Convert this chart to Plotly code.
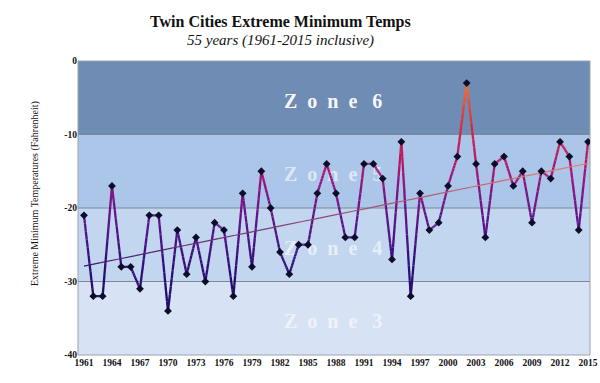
import numpy as np
import plotly.graph_objects as go

years = list(range(1961, 2016))
temps = [-21, -32, -32, -17, -28, -28, -31, -21, -21, -34,
         -23, -29, -24, -30, -22, -23, -32, -18, -28, -15,
         -20, -26, -29, -25, -25, -18, -14, -18, -24, -24,
         -14, -14, -16, -27, -11, -32, -18, -23, -22, -17,
         -13, -3, -14, -24, -14, -13, -17, -15, -22, -15,
         -16, -11, -13, -23, -11]
zone_names = ["Zone 6", "Zone 5", "Zone 4", "Zone 3"]
zone_bounds = [(0, -10), (-10, -20), (-20, -30), (-30, -40)]
zone_label_y = [-5.7, -15.7, -25.7, -35.7]
xtick_years = list(range(1961, 2016, 3))
ytick_vals = [0, -10, -20, -30, -40]
ytick_text = ["0", "-10", "-20", "-30", "-40"]

zone_colors = ["#6f8cb5", "#abc6e8", "#c3d6ef", "#d7e3f4"]
zone_text_colors = ["rgba(255,255,255,0.95)", "rgba(255,255,255,0.6)",
                    "rgba(255,255,255,0.6)", "rgba(255,255,255,0.6)"]

stops = [(-34, (25, 10, 100)), (-28, (45, 15, 120)), (-22, (90, 20, 140)),
         (-17, (140, 20, 130)), (-13, (185, 25, 100)), (-9, (215, 40, 70)),
         (-3, (240, 120, 40))]


def color_for(v):
    if v <= stops[0][0]:
        c = stops[0][1]
    elif v >= stops[-1][0]:
        c = stops[-1][1]
    else:
        for (a, ca), (b, cb) in zip(stops[:-1], stops[1:]):
            if a <= v <= b:
                t = (v - a) / (b - a)
                c = tuple(ca[i] + t * (cb[i] - ca[i]) for i in range(3))
                break
    return "rgb(%d,%d,%d)" % tuple(int(round(x)) for x in c)


def spaced(name):
    word, num = name.split(" ")
    return "\u2002".join(list(word)) + "\u2002 " + num


fig = go.Figure()

# zone labels (drawn first so lines are above)
fig.add_trace(go.Scatter(
    x=[1987.7] * 4, y=zone_label_y, mode="text", text=[spaced(n) for n in zone_names],
    textfont=dict(family="Liberation Serif", size=20, color=zone_text_colors, weight="bold"),
    hoverinfo="skip", showlegend=False))

# gradient data line: split segments into pieces, bin by colour
nsub = 10
nbins = 40
vmin, vmax = -34, -3
bins = {}
for i in range(len(years) - 1):
    x0, x1 = years[i], years[i + 1]
    y0, y1 = temps[i], temps[i + 1]
    for k in range(nsub):
        t0, t1 = k / nsub, (k + 1) / nsub
        xa, xb = x0 + (x1 - x0) * t0, x0 + (x1 - x0) * t1
        ya, yb = y0 + (y1 - y0) * t0, y0 + (y1 - y0) * t1
        vm = (ya + yb) / 2
        b = int(round((vm - vmin) / (vmax - vmin) * nbins))
        b = max(0, min(nbins, b))
        bins.setdefault(b, ([], []))
        bins[b][0].extend([xa, xb, None])
        bins[b][1].extend([ya, yb, None])
for b, (xs, ys) in sorted(bins.items()):
    v = vmin + (vmax - vmin) * b / nbins
    fig.add_trace(go.Scatter(x=xs, y=ys, mode="lines",
                             line=dict(color=color_for(v), width=2.3),
                             hoverinfo="skip", showlegend=False))

# trend line (least squares), gradient from left to right
slope, intercept = np.polyfit(years, temps, 1)
nt = 30
tx = np.linspace(years[0], years[-1], nt + 1)
c0, c1 = (60, 25, 115), (235, 130, 110)
for k in range(nt):
    t = (k + 0.5) / nt
    col = "rgb(%d,%d,%d)" % tuple(int(c0[i] + t * (c1[i] - c0[i])) for i in range(3))
    fig.add_trace(go.Scatter(x=[tx[k], tx[k + 1]],
                             y=[slope * tx[k] + intercept, slope * tx[k + 1] + intercept],
                             mode="lines", line=dict(color=col, width=1.2),
                             hoverinfo="skip", showlegend=False))

# markers
fig.add_trace(go.Scatter(x=years, y=temps, mode="markers",
                         marker=dict(symbol="diamond", size=6, color="#0d0d2a"),
                         showlegend=False))

shapes = []
for (top, bot), col in zip(zone_bounds, zone_colors):
    shapes.append(dict(type="rect", xref="paper", yref="y", x0=0, x1=1, y0=bot, y1=top,
                       fillcolor=col, line=dict(width=0), layer="below"))
for gv in [-10, -20, -30]:
    shapes.append(dict(type="line", xref="paper", yref="y", x0=0, x1=1, y0=gv, y1=gv,
                       line=dict(color="#7d8898", width=1), layer="below"))
shapes.append(dict(type="rect", xref="paper", yref="paper", x0=0, x1=1, y0=0, y1=1,
                   line=dict(color="#9aa3ad", width=1), layer="below"))

W, H = 600, 383
L, R, T, B = 78, 10, 61, 28
pw = W - L - R
ph = H - T - B


def px_x(p):
    return (p - L) / pw


def px_y(p):
    return 1 - (p - T) / ph


fig.update_layout(
    width=W, height=H,
    margin=dict(l=L, r=R, t=T, b=B, autoexpand=False),
    paper_bgcolor="white", plot_bgcolor="white",
    shapes=shapes,
    xaxis=dict(range=[1960.36, 2015.21], tickvals=xtick_years,
               ticktext=[str(y) for y in xtick_years],
               tickfont=dict(family="Liberation Serif", size=9.5, color="#111", weight="bold"),
               showgrid=False, zeroline=False, showline=False, ticks="", automargin=False),
    yaxis=dict(range=[-40, 0], tickvals=ytick_vals, ticktext=ytick_text,
               tickfont=dict(family="Liberation Serif", size=9.5, color="#111", weight="bold"),
               showgrid=False, zeroline=False, showline=False, ticks="", automargin=False),
    annotations=[
        dict(text="<b>Twin Cities Extreme Minimum Temps</b>", xref="paper", yref="paper",
             x=px_x(280), y=px_y(22), xanchor="center", yanchor="middle", showarrow=False,
             font=dict(family="Liberation Serif", size=16, color="#111")),
        dict(text="<i>55 years (1961-2015 inclusive)</i>", xref="paper", yref="paper",
             x=px_x(280), y=px_y(40), xanchor="center", yanchor="middle", showarrow=False,
             font=dict(family="Liberation Serif", size=15, color="#111")),
        dict(text="Extreme Minimum Temperatures (Fahrenheit)", xref="paper", yref="paper",
             x=px_x(35), y=px_y(194), xanchor="center", yanchor="middle",
             showarrow=False, textangle=-90,
             font=dict(family="Liberation Serif", size=10, color="#111")),
    ],
)

fig.write_html("out.html", config={"displayModeBar": False},
               post_script="document.body.style.margin='0';document.body.style.overflow='hidden';")
